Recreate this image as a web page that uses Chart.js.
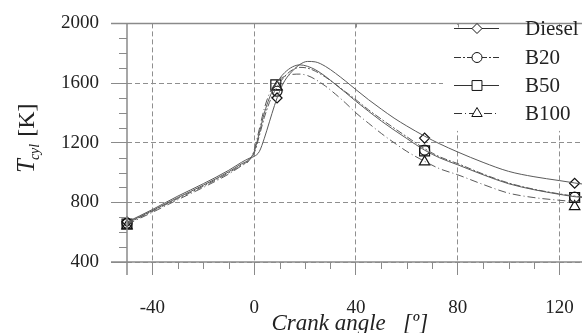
<!DOCTYPE html>
<html><head><meta charset="utf-8">
<script src="https://cdn.jsdelivr.net/npm/chart.js@4.4.1/dist/chart.umd.min.js"></script>
<style>html,body{margin:0;padding:0;background:#fff;overflow:hidden;width:582px;height:333px}</style>
</head><body>
<canvas id="c" width="621" height="333"></canvas>
<script>
// ---- data ----
const crankAngle = [-50,-40,-30,-20,-10,-5,-2,0,2,4,6,8,10,12,15,18,21,24,28,32,36,40,45,50,55,60,67,73,80,90,100,110,120,126,129.5];
const dieselT = [668,752,842,925,1015,1068,1095,1108,1140,1230,1340,1450,1545,1615,1680,1725,1745,1742,1712,1665,1612,1556,1488,1425,1365,1312,1244,1192,1138,1068,1008,972,946,930,922];
const b20T    = [658,740,826,908,998,1050,1082,1130,1245,1370,1470,1545,1600,1645,1688,1705,1700,1680,1640,1592,1540,1488,1420,1358,1298,1240,1160,1105,1060,990,930,888,857,842,836];
const b50T    = [662,745,832,915,1005,1058,1088,1140,1265,1400,1500,1575,1630,1670,1708,1722,1712,1690,1645,1590,1535,1478,1410,1345,1285,1228,1150,1098,1052,985,925,885,854,838,832];
const b100T   = [652,733,818,900,990,1045,1080,1150,1290,1430,1530,1590,1625,1645,1658,1660,1650,1625,1580,1525,1465,1400,1330,1262,1200,1142,1075,1025,985,920,862,832,814,805,800];

const dieselMarkAngle = [-50, 9, 67, 126];
const dieselMarkT     = [670, 1500, 1231, 928];
const b20MarkAngle    = [-50, 9, 67, 126];
const b20MarkT        = [660, 1545, 1150, 835];
const b50MarkAngle    = [-50, 8.5, 67, 126];
const b50MarkT        = [655, 1588, 1145, 833];
const b100MarkAngle   = [-50, 9, 67, 126];
const b100MarkT       = [642, 1575, 1071, 772];

const seriesNames = ['Diesel', 'B20', 'B50', 'B100'];
const xTickValues = [-40, 0, 40, 80, 120];
const xTickLabels = ['-40', '0', '40', '80', '120'];
const yTickValues = [400, 800, 1200, 1600, 2000];
const yTickLabels = ['400', '800', '1200', '1600', '2000'];
const xMinorTicks = [-30,-20,-10,10,20,30,50,60,70,90,100,110,130];
const yMinorTicks = [500,600,700,900,1000,1100,1300,1400,1500,1700,1800,1900];

// ---- styles ----
const curveColor = '#5a5a5a';
const markColor = '#111';
const styles = [
  {dash: [], pointStyle: 'rectRot', radius: 5},
  {dash: [7,2,2,2], pointStyle: 'circle', radius: 5},
  {dash: [], pointStyle: 'rect', radius: 7},
  {dash: [8,3,1,3], pointStyle: 'triangle', radius: 6}
];
const curves = [dieselT, b20T, b50T, b100T];
const markA = [dieselMarkAngle, b20MarkAngle, b50MarkAngle, b100MarkAngle];
const markT = [dieselMarkT, b20MarkT, b50MarkT, b100MarkT];

const datasets = [];
curves.forEach((vals, i) => {
  datasets.push({
    label: seriesNames[i],
    data: crankAngle.map((a, k) => ({x: a, y: vals[k]})),
    borderColor: curveColor, borderWidth: 1, borderDash: styles[i].dash,
    pointRadius: 0, cubicInterpolationMode: 'monotone', fill: false
  });
});
markA.forEach((arr, i) => {
  datasets.push({
    label: seriesNames[i] + ' markers',
    data: arr.map((a, k) => ({x: a, y: markT[i][k]})),
    showLine: false, pointStyle: styles[i].pointStyle, pointRadius: styles[i].radius,
    borderColor: markColor, backgroundColor: 'rgba(255,255,255,0)', pointBorderWidth: 1.2,
    clip: false
  });
});

const serif = '"Liberation Serif", "Times New Roman", serif';

const framePlugin = {
  id: 'frame',
  afterDraw(chart) {
    const ctx = chart.ctx;
    const xs = chart.scales.x, ys = chart.scales.y;
    const area = chart.chartArea;
    const L = area.left, T = area.top, B = area.bottom, R = chart.width;
    ctx.save();
    // legend background
    ctx.fillStyle = '#fff';
    ctx.fillRect(443, T + 1.5, R - 443, 106);
    // axis lines
    ctx.strokeStyle = '#8a8a8a';
    ctx.lineWidth = 1.5;
    ctx.setLineDash([]);
    ctx.beginPath();
    ctx.moveTo(L - 16, B); ctx.lineTo(R, B);
    ctx.moveTo(L - 16, T); ctx.lineTo(R, T);
    ctx.moveTo(L, T); ctx.lineTo(L, B + 13);
    ctx.stroke();
    // minor ticks
    ctx.lineWidth = 1;
    ctx.beginPath();
    xMinorTicks.forEach(v => { const p = Math.round(xs.getPixelForValue(v)) + 0.5; ctx.moveTo(p, B); ctx.lineTo(p, B + 7); });
    yMinorTicks.forEach(v => { const p = Math.round(ys.getPixelForValue(v)) + 0.5; ctx.moveTo(L - 8, p); ctx.lineTo(L, p); });
    // top ticks
    xTickValues.forEach(v => { const p = Math.round(xs.getPixelForValue(v)) + 0.5; ctx.moveTo(p, T); ctx.lineTo(p, T + 4); });
    ctx.stroke();
    // legend
    const rows = [28, 57, 85, 113];
    rows.forEach((y, i) => {
      ctx.strokeStyle = '#333';
      ctx.lineWidth = 1;
      ctx.setLineDash(styles[i].dash);
      ctx.beginPath(); ctx.moveTo(454, y + 0.5); ctx.lineTo(499, y + 0.5); ctx.stroke();
      ctx.setLineDash([]);
      ctx.fillStyle = '#fff';
      ctx.strokeStyle = markColor;
      Chart.helpers.drawPoint(ctx, {pointStyle: styles[i].pointStyle, radius: styles[i].radius, rotation: 0, borderWidth: 1.2}, 477, y + 0.5);
      ctx.fillStyle = '#222';
      ctx.font = '21px ' + serif;
      ctx.textBaseline = 'middle';
      ctx.textAlign = 'left';
      ctx.fillText(seriesNames[i], 525, y + 1);
    });
    // y axis title
    ctx.translate(34, 173);
    ctx.rotate(-Math.PI / 2);
    ctx.fillStyle = '#222';
    ctx.textBaseline = 'alphabetic';
    ctx.font = 'italic 25px ' + serif;
    ctx.fillText('T', 0, 0);
    let w = ctx.measureText('T').width;
    ctx.font = 'italic 14px ' + serif;
    ctx.fillText('cyl', w - 1, 5);
    w += ctx.measureText('cyl').width;
    ctx.font = '24px ' + serif;
    ctx.fillText('\u00a0[K]', w, 0);
    ctx.restore();
  }
};

const NB = '\u00a0';
new Chart(document.getElementById('c'), {
  type: 'line',
  data: { datasets },
  options: {
    responsive: false, animation: false, devicePixelRatio: 1,
    layout: { padding: { left: 0, right: 0, top: 19, bottom: 0 } },
    plugins: { legend: { display: false }, tooltip: { enabled: false } },
    scales: {
      x: {
        type: 'linear', min: -50, max: 141,
        afterBuildTicks: s => { s.ticks = xTickValues.map(v => ({value: v})); },
        afterFit: s => { s.height = 71; },
        ticks: { font: { family: serif, size: 19 }, color: '#222', padding: 22, maxRotation: 0, autoSkip: false,
                 callback: (v) => xTickLabels[xTickValues.indexOf(v)] },
        grid: { color: '#8f8f8f', lineWidth: 1, tickLength: 13, tickColor: '#8a8a8a' },
        border: { display: false, dash: [5, 3] },
        title: { display: true, text: 'Crank angle' + NB + NB + NB + '[º]' + NB.repeat(7), color: '#222',
                 font: { family: serif, size: 23, style: 'italic', lineHeight: 0.6 }, padding: { top: 0, bottom: 2 } }
      },
      y: {
        type: 'linear', min: 400, max: 2000,
        afterBuildTicks: s => { s.ticks = yTickValues.map(v => ({value: v})); },
        afterFit: s => { s.width = 127; },
        ticks: { font: { family: serif, size: 19 }, color: '#222', padding: 12,
                 callback: (v) => yTickLabels[yTickValues.indexOf(v)] },
        grid: { color: '#8f8f8f', lineWidth: 1, tickLength: 16, tickColor: '#8a8a8a' },
        border: { display: false, dash: [5, 3] }
      }
    }
  },
  plugins: [framePlugin]
});
</script>
</body></html>
